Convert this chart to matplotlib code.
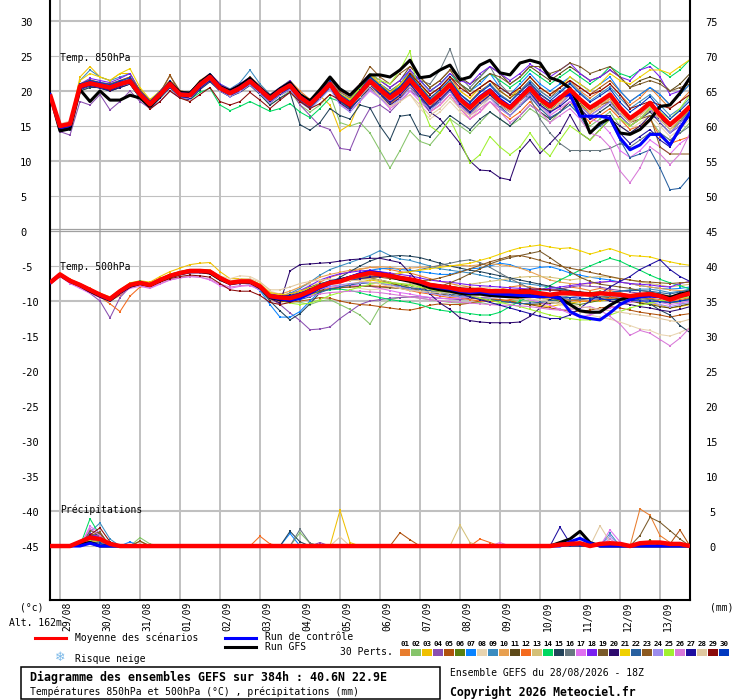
import matplotlib
matplotlib.use("Agg")
import matplotlib.pyplot as plt
from matplotlib.lines import Line2D
from matplotlib.patches import Rectangle
from matplotlib.transforms import blended_transform_factory

plt.rcParams['font.family'] = ['DejaVu Sans Mono', 'DejaVu Sans']

# forecast steps (hours after 28/08 18Z), one every 6h up to 384h
hours = list(range(0, 385, 6))
dates = ["29/08", "30/08", "31/08", "01/09", "02/09", "03/09", "04/09", "05/09",
         "06/09", "07/09", "08/09", "09/09", "10/09", "11/09", "12/09", "13/09"]

pert_colors = ["#e87d2e", "#86c46a", "#f0c000", "#8a4fb0", "#b0520e", "#5a8010",
               "#0a84ff", "#e8d4b0", "#3a8cc0", "#e8a050", "#5e4a18", "#f46a1e",
               "#d4c078", "#00d860", "#23435a", "#687880", "#e070f0", "#7a20f0",
               "#7a5a2a", "#2e0a6e", "#f0d000", "#2860a0", "#8c5a20", "#9c8cec",
               "#a0f030", "#d878d8", "#1e0ea0", "#e0c8a0", "#8a0a0a", "#0038c0"]

# ---- temperature 850 hPa (degC)
t850_mean = [19.5, 15,15.3,20.7,21.1, 20.8,20.5,21,21.4, 19.5,18.1,19.5,21, 19.5,19.4,20.9,22, 20.4,19.7,20.4,21.4, 20.2,18.9,20,20.8, 19.1,18.1,19.5,21, 19,18.1,19.7,21.4, 20.2,19,20,21.6, 20,18.3,19.5,20.9, 18.8,17.6,19,20, 18.5,17.6,19,20.4, 18.8,17.8,19,20.2, 18.8,17.6,18.5,19.5, 17.6,16.1,17.1,18.3, 16.6,15.2,16.4,17.8]
t850_ctrl = [19.5, 14.8,15.1,20.6,21.2, 20.9,20.6,21.1,21.5, 19.6,18.2,19.6,21.1, 19.6,19.5,21,22.1, 20.5,19.8,20.5,21.5, 20.3,19,20.1,20.9, 19.2,18.2,19.6,21.1, 19.1,18.2,19.8,21.5, 20.3,19.1,20.1,21.7, 20.1,18.4,19.6,21, 19,17.8,19.2,20.2, 18.8,17.8,19.2,20.6, 19,18,19.2,19.5, 16.4,16.4,16.4,16.1, 13.3,11.6,12.3,13.8, 13.8,12.3,14.7,16.9]
t850_gfs = [19.5, 14.3,14.6,20.2,18.5, 20,18.7,18.7,19.4, 19,17.8,19.3,21.2, 19.8,19.7,21.2,22.3, 20.6,20,20.8,21.8, 20.4,19.2,20.3,21.2, 19.5,18.6,20.2,22, 20.3,19.4,20.8,22.3, 22.3,22,23,24.4, 21.9,22.1,23,23.7, 21.6,22,23.7,24.4, 22.6,22.3,24,24.4, 24,21.9,21.4,20.4, 17.6,14,15.4,16.1, 14,13.8,14.5,15.9, 17.8,18,19.7,21.9]
t850_perts = [
    [19.8, 15.2,15.5,21,21.5, 21,20.8,21.5,22, 20,18.5,20,21.5, 20,19.8,21.5,22.5, 21,20,20.8,22, 20.8,19.5,20.5,21.5, 20,18.8,20,21.8, 20,19,20.5,22.5, 21,19.8,21,22.8, 21,19.5,20.5,22, 20,19,20.5,21.5, 20,19,20.5,22, 20.5,19.5,20.5,21.5, 20,19,20,21, 19.5,18,19,20.5, 19,17.5,18.5,20],
    [19.2, 14.5,14.8,20,20.5, 20.5,20,20.5,21, 19,17.8,19,20.5, 19,19,20.5,21.5, 20,19.2,20,21, 19.5,18,19,20, 18,17,18,19.5, 15.5,15,15.5,14, 11.5,9,11.5,14.3, 12.8,12.3,14,16, 15,14,15.5,17, 16,15,16,17.5, 16.5,15.5,17,18.5, 16.5,15,16,17, 15,14,15,16, 14,13,14,15.5],
    [19.6, 15,15.5,22,23.5, 22,21.5,22.5,22.5, 20,18.5,19.8,21.2, 19.8,19.6,21,22, 20.5,19.8,20.5,21.5, 20.3,19,20,21, 19,18,19.3,18, 14.3,15.2,18.5,20.5, 19,18,19.5,21, 19.5,18,19,20.5, 19,17.5,18.5,20, 18,17,18.5,20, 19,18,19,20, 18,17,18,19, 16.5,15,16,17.5, 16,14.5,15.5,17],
    [19.3, 14.2,13.7,18.5,18, 19.5,17.3,18.5,20, 18.5,17.5,18.5,20, 19,19,20.5,21.5, 20,19.3,20,21, 19.8,18.5,19.5,20.5, 18,16.5,15,14.5, 11.8,11.6,15,17.5, 18,17,18.5,20, 19,17.5,18.5,20, 18,16.5,18,19.5, 17.5,16.5,18,19.5, 18,17,18,19.5, 18,16.5,17.5,18.5, 16.5,15,16,17.5, 15.5,14,15,16.5],
    [19.5, 14.8,15,20.3,21, 20.8,20.3,21,21.5, 19.5,18,19.6,22.3, 19.5,19.3,20.8,21.8, 20.3,19.6,20.3,21.3, 20,18.8,19.8,20.8, 19,18,19.5,21, 19.2,18.4,20,21.8, 20.6,19.4,20.4,22, 20.5,19,20,21.5, 19.5,18.5,20,21, 19.5,18.5,20,21.5, 20,19,20.5,21.5, 20.5,19.5,20.5,21.5, 20,18.5,19.5,20.5, 19.5,18,19.5,21],
    [19.4, 14.6,14.9,20.5,20.8, 20.5,20.2,20.7,21.2, 19.3,17.9,19.3,20.8, 19.3,19.2,20.7,21.8, 20.2,19.5,20.2,21.2, 20,18.7,19.8,20.6, 18.9,17.9,19.3,20.8, 18.8,17.8,19.4,21, 19.8,18.6,19.6,21.2, 19.5,17.8,19,20.4, 18.3,17,18.5,19.5, 18,17,18.5,20, 18.3,17.3,18.5,19.7, 18.2,17,18,19, 17,15.5,16.5,17.8, 16,14.5,15.8,17.2],
    [19.7, 15,15.2,20.8,21.5, 21.2,21,21.5,21.8, 19.8,18.4,19.8,21.3, 19.8,19.7,21.2,22.3, 20.7,20,20.7,21.7, 20.5,19.2,20.3,21.1, 19.5,18.5,20,21.5, 19.5,18.5,20,22, 21,20,21,23, 21.5,20,21,22.5, 21,20,21,22.5, 20.5,19.5,21,22.5, 21,20,21,22, 21,20,21,22, 20,18.5,19.5,20.5, 19.5,18,19.5,21],
    [19.5, 15.2,15.6,20.6,21, 20.6,20.4,21.2,21.6, 19.3,18,19.2,20.6, 19,18.5,20.5,21.8, 20,19.2,20,21, 19.6,18.4,19.5,20.4, 18.6,17.6,19,20.6, 18.5,17.5,19,20.5, 19.2,17.5,18.5,19.5, 17.5,16,17,18.5, 17,16,17.5,19, 17.5,16.5,18,19.5, 17.5,16.5,17.5,18.5, 17.5,16,17,18, 16,14.5,15.5,16.5, 15,13.5,14.5,16],
    [19.6, 15,15.3,21.5,23, 22,21.5,22,22.5, 20,18.5,20,21.5, 20,19.8,21.3,22.4, 21,20.3,21.2,23, 21,19.5,20.5,21.5, 19.5,18.5,20,21.5, 19.5,18.5,20.3,22, 20.8,19.6,20.6,22.2, 20.5,18.8,20,21.4, 19.5,18.3,19.8,21, 19.5,18.5,20,21.5, 20,19,20,21.2, 19.8,18.6,19.6,20.6, 19,17.5,18.5,19.5, 18,16.5,17.5,19],
    [19.5, 14.7,15,20.4,20.9, 20.8,20.5,21,21.5, 19.6,18.2,19.6,21, 19.6,19.5,21,22.1, 20.5,19.8,20.5,21.5, 20.3,19,20,20.9, 19,18,19.4,20.8, 18.7,17.6,19.2,20.8, 19.6,18.2,19.2,20.8, 19.4,17.6,18.8,20, 18,17,18.5,19.5, 18,17,18.5,20, 18,17,18.2,19.5, 18,16.8,17.8,18.8, 16.5,15,16,17.2, 16,14.5,16,17.5],
    [19.4, 14.6,15,20.6,21.3, 21,20.7,21.2,21.6, 19.6,18.3,19.6,21.2, 19.6,19.5,21,22.2, 20.6,19.9,20.6,21.6, 20.4,19.1,20.2,21, 19.4,18.4,19.8,21.4, 19.5,18.8,20.5,22.5, 21.5,20.5,21.5,23.5, 22,20.5,21.5,23, 22,21,22,23.5, 22.5,21,22,23.5, 22.5,21.5,22.5,23.5, 22.5,21.5,22,23, 22,20.5,21.5,22, 21.5,20,21,22.5],
    [19.6, 15,15.4,20.8,21.2, 20.9,20.6,21.1,21.5, 19.6,18.2,19.5,21, 19.5,19.4,20.8,21.8, 20.2,19.5,20.2,21.2, 20,18.6,19.7,20.5, 18.8,17.8,19.2,20.6, 18.5,17.5,19,20.5, 19.5,18.3,19,20.5, 19,17,18,19.5, 17.5,16,17,18.5, 17,16,17,18.5, 17,16,17,18.5, 17,15.5,16.5,17.5, 16,14.5,15,16, 13.5,12.5,13,13.5],
    [19.5, 14.8,15.1,20.5,21, 20.7,20.3,20.8,21.3, 19.3,17.9,19.3,20.6, 19.2,19,20.6,22.5, 20.5,19.6,20.4,22, 20.5,19,20,21, 19.2,18.2,19.6,21.2, 19,18,19.6,21.2, 20,18.8,19.8,21.5, 19.6,18,19.2,20.6, 18.5,17.3,18.7,19.8, 18.3,17.3,18.7,20.2, 18.6,17.5,18.7,20, 18.5,17.3,18.2,19.2, 17.2,15.7,16.8,18, 16.4,15,16.2,17.5],
    [19.4, 14.6,14.9,20.3,20.8, 20.4,20,20.6,21.1, 19,17.8,19,20.5, 19,18.8,19.8,20.4, 18,17.2,17.8,18.5, 17.8,17.1,17.5,18.2, 17,16.2,17.5,19, 18.5,17.5,19,21, 20.5,19.5,21,22.5, 21.5,20,21,22.5, 21,20,21.5,22.5, 21.5,20.5,21.5,23, 22,21,22,23, 22,21,22,23.5, 22.5,22,23,24, 23,22,23,24.5],
    [19.3, 14.3,14.5,20,20.5, 20.5,20,20.5,21, 19,17.5,19,20.5, 19,18.8,20.2,21.3, 20,19.2,19.8,20.8, 19.5,18,19,19.8, 15.2,14.4,15.5,17.5, 16.5,16,18,17.6, 15,13,16.4,16.6, 13.8,13.5,15,16.5, 15.5,14.5,16,17, 16,15,16.5,18, 17,16,17,18.5, 17.5,16,17,18, 16.5,15,16,17, 15.5,14,15.5,17],
    [19.5, 14.9,15.2,20.7,21.2, 21,20.7,21.3,21.8, 19.8,18.4,19.8,21.3, 19.8,19.7,21.2,22.3, 20.7,20,20.7,21.8, 20.5,19.2,20.3,21.2, 19.5,18.5,20,21.5, 19.8,19,20.5,22.3, 21,20,21,22.5, 21.5,21,23,26, 22,20.5,22,23.5, 21,19.5,19.5,19, 16,14,12.5,11.5, 11.5,11.5,11.5,11.8, 12.5,12,13,14, 14,13,14,15],
    [19.5, 14.9,15.2,20.5,21, 20.7,20.4,20.9,21.3, 19.2,17.8,19.2,20.7, 19.2,19.1,20.5,21.5, 20,19.3,20,21, 19.7,18.4,19.5,20.3, 18.6,17.6,19,20.5, 18.2,17,18.5,20, 19,17.5,18.5,20, 18.5,17,18,19.5, 17.5,16,17,18.5, 17.5,16.5,18,19, 18,16.5,17.5,18.5, 17.5,16,15.5,14, 11.5,10.5,11.5,13, 12,11,12.5,13.5],
    [19.6, 15,15.3,21,21.8, 21.5,21.2,21.8,22.5, 20,18.6,20,21.5, 20,19.8,21.3,22.5, 21,20.2,21,22, 20.6,19.4,20.5,21.4, 19.6,18.6,20,21.6, 20,19.5,21,22.5, 21.5,20.5,21.5,23, 21.5,20,21,22.5, 21.5,21,22.5,23.5, 22.5,21.5,22.5,23.8, 23,22,23,24, 22.5,21.5,22,23, 22,21.5,23,23.5, 22,19.5,20,22],
    [19.5, 14.7,14.9,20.6,21.2, 21,20.6,21.2,21.8, 19.6,18.2,19.6,21.2, 19.6,19.5,21,22, 20.6,20,20.6,21.6, 20.4,19,20.2,21, 19.4,18.4,19.8,21.2, 19.3,18.4,20,22, 20.8,19.6,20.6,22.2, 21,19.5,20.5,22, 21,20,21.5,22.5, 22,21,22,23.5, 23.5,22.5,23,24, 23.5,22.5,23,23.5, 22,20.5,21,21.5, 21,20,20.5,21],
    [19.4, 14.5,14.7,20.2,20.7, 20.4,20,20.5,21, 19,17.6,19,20.5, 19,18.8,20.3,21.5, 20,19.2,19.9,20.9, 19.7,18.3,19.4,20.2, 18.5,17.5,19,20.5, 18.3,17.3,19,20.5, 19.5,18,19,20.5, 19,17,16,14.3, 12.5,10,8.7,8.6, 7.6,7.3,11.4,13, 11.1,12.5,14,16.6, 14,13,14.5,16, 15,14,15,16.5, 16,15,16.5,18],
    [19.6, 15.1,15.5,21.5,22.5, 22,21.5,22.5,23.2, 20.5,18.8,20,21.5, 20,19.8,21.2,22.2, 20.7,20,20.6,21.6, 20.4,19.2,20.3,21.2, 19.5,18.5,20,21.5, 19.6,18.8,20.3,22.4, 21,19.8,21,22.5, 21,19,20,21.5, 20,19,20.5,21.5, 20,19,20.5,22, 20.5,19.5,20.5,22, 21,20,21,22.5, 21.5,21,22,23, 23,22.5,23.5,24.5],
    [19.5, 14.6,14.8,20.3,20.9, 20.6,20.2,20.8,21.2, 19.2,17.8,19.2,20.8, 19.2,19,20.5,21.6, 20.2,19.4,20.1,21.1, 19.9,18.6,19.6,20.4, 18.6,17.6,19,20.5, 18.6,17.5,19,20.8, 19.5,18.3,19.4,21, 19.2,17.5,18.5,20, 18,16.8,18,19.2, 17.8,16.5,17.8,19.2, 17.5,16.2,17,18, 16.5,14,15,16, 13,10.5,11,11.6, 9,5.9,6.1,7.8],
    [19.7, 15,15.4,21,21.6, 21.2,21,21.5,22, 20.2,18.6,19.8,22.2, 20,19.8,21.5,22.3, 20.8,20.2,20.8,22, 20.6,19.4,20.4,21.2, 19.6,18.6,20,21.8, 20,19.5,21,23.5, 22,21,22.5,23.5, 22,20.5,21.5,23, 21,19.5,20.5,21.5, 20,19,20,21, 19.5,18.5,19,20, 19,17.5,18,18.5, 17,15.5,16,16.5, 12,11,11,11],
    [19.5, 14.8,15,20.3,20.8, 20.5,20.2,20.7,21.1, 19.1,17.7,19.1,20.6, 19,18.9,20.4,21.5, 20,19.2,19.9,20.9, 19.6,18.3,19.4,20.2, 18.4,17.4,18.8,20.3, 18,17,18.6,20.3, 19,17.8,18.8,20.5, 18.8,17.2,18.4,20, 17.8,16.6,18,19, 17.5,16.5,18,19.5, 17.8,16.8,18,19.5, 17.8,16.5,17.4,18.4, 16.6,15,16,17.4, 15.6,14,15.5,17],
    [19.4, 14.7,15,20.5,21, 20.8,20.4,21,21.6, 19.6,18.2,19.4,21, 19.5,19.3,20.8,21.9, 20.4,19.7,20.4,21.4, 20.2,18.9,19.9,20.8, 19.2,18.2,19.6,21, 19.4,18.6,20.5,22.5, 21.5,21,23,25.7, 18.6,15,14,16, 13,9.7,10.9,13.5, 12,10.9,12,14, 12,10.7,13,15, 14,13,14.5,16, 16,15,16,17.5, 17,16,17.5,19.5],
    [19.5, 14.9,15.2,20.6,21.1, 20.8,20.5,21,21.5, 19.4,18,19.4,20.9, 19.4,19.3,20.7,21.8, 20.3,19.6,20.3,21.3, 20,18.7,19.8,20.6, 19,18,19.4,20.8, 18.8,17.8,19.4,21, 20,18.7,19.6,21, 19.5,18,19,20.5, 18,16.5,17.5,18.5, 17,15.5,16.5,18, 17,15.5,16.5,17.5, 16,14,13.5,12, 8.6,6.9,9,12, 11,9.5,11,14],
    [19.4, 14.5,14.8,20.3,20.8, 20.5,20.1,20.7,21.2, 19.2,17.8,19.2,20.7, 19.2,19,20.4,21.5, 20.1,19.4,20.1,21.1, 19.9,18.6,19.6,20.5, 18.8,17.8,19.2,20.7, 18.6,17.6,19.2,20.8, 19.6,18.4,19.4,21, 19.3,17.6,18.8,20.2, 18.2,17,18.3,19.4, 18,17,18.5,19.8, 18,17,17.8,19, 17.5,16,16.5,16.5, 14,12.5,13.5,14.5, 13,12,14.5,16.5],
    [19.5, 15.3,15.7,20.6,21.1, 20.8,20.6,21.3,21.8, 19.5,18.2,19.5,21, 19.4,19.2,20.7,21.7, 20.2,19.5,20.2,21.2, 20,18.7,19.7,20.7, 19,18,19.4,20.8, 18.8,17.8,19.2,20.7, 19.3,17.8,18.5,19.5, 18,16.5,17.5,19, 17.5,16.5,18,19.2, 18,17,18.5,20, 18.5,17.5,18.5,19.8, 18.5,17,18,19, 17,15.5,16.5,17.8, 16,14.5,16,17.5],
    [19.5, 14.7,15,20.4,20.9, 20.6,20.2,20.8,21.2, 19.2,17.4,18.5,20, 19,18.5,19.5,20.5, 18.5,18,18.5,19.8, 18.7,17.5,18.7,19.8, 18.5,17.5,18.2,19.5, 18.7,17.7,19.5,21.2, 20.5,19.5,20.5,22.5, 21,19.5,20.5,22, 20.5,19.5,20.5,21.5, 20.5,19.5,20.5,22, 20.5,19.5,20.5,21.5, 20.5,19.5,20,21, 19.5,17.5,18,18.5, 18,17.5,18.5,19.5],
    [19.6, 14.9,15.3,21,21.5, 21.2,20.9,21.4,21.9, 19.9,18.5,19.9,21.4, 19.9,19.8,21.3,22.4, 20.8,20.1,20.8,21.8, 20.6,19.3,20.4,21.2, 19.5,18.5,19.9,21.4, 19.5,18.5,20.1,22, 20.8,19.6,20.6,22.2, 20.6,19,20.2,21.6, 19.6,18.4,19.8,20.8, 19.3,18.4,19.8,21.2, 19.6,18.6,19.8,21, 19.6,18.4,19.3,20.3, 18.4,17,18,19.2, 17.4,16,17.2,18.6],
]

# ---- temperature 500 hPa (degC)
t500_mean = [-7.4,-6.2,-7.1,-7.7,-8.4, -9.1,-9.7,-8.6,-7.7,-7.4, -7.7,-7,-6.4,-6,-5.7, -5.7,-5.8,-6.7,-7.4,-7.2, -7.2,-7.9,-9.3,-9.5,-9.6, -9.2,-8.6,-7.9,-7.4,-7.2, -6.7,-6.3,-6,-6.2,-6.4, -6.7,-6.9,-7.2,-7.7,-7.9, -8.1,-8.4,-8.5,-8.4,-8.6, -8.6,-8.6,-8.7,-8.7,-8.9, -9.1,-8.9,-8.9,-9,-9.1, -8.9,-9,-9.1,-9.3,-9.1, -9,-9.3,-9.8,-9.3,-8.9]
t500_ctrl = [-7.4,-6.2,-7.1,-7.7,-8.4, -9.2,-9.8,-8.7,-7.8,-7.4, -7.7,-7,-6.4,-6,-5.7, -5.7,-5.8,-6.7,-7.4,-7.2, -7.2,-7.9,-9.4,-9.7,-9.9, -9.6,-8.9,-8.1,-7.5,-7.1, -6.6,-6.1,-5.8,-6,-6.3, -6.6,-6.9,-7.3,-7.8,-8.1, -8.3,-8.6,-8.8,-8.7,-8.9, -9,-9.1,-9.2,-9.3,-9.4, -9.3,-9.6,-11.5,-12.2,-12.5, -12.7,-11.7,-10.5,-9.8,-9.4, -9.3,-9.4,-9.8,-9.3,-9]
t500_gfs = [-7.4,-6.3,-7.2,-7.8,-8.6, -9.3,-9.9,-8.8,-7.9,-7.5, -7.8,-7.1,-6.5,-6.1,-5.8, -5.8,-6,-6.9,-7.5,-7.3, -7.3,-8.1,-9.5,-9.8,-9.9, -9.5,-8.8,-8,-7.4,-7, -6.6,-6.2,-6,-6.2,-6.5, -6.9,-7.2,-7.6,-8.1,-8.4, -8.6,-8.9,-9,-9,-9.2, -9.3,-9.4,-9.4,-9.3,-9.2, -9.3,-9.6,-10.5,-11.4,-11.6, -11.6,-10.6,-9.8,-9.4,-9.2, -9,-9.2,-9.5,-9,-8.7]
t500_perts = [
    [-7.6,-6.4,-7.3,-8,-8.8, -9.5,-10,-9.2,-8,-7.6, -7.6,-6.9,-6.2,-5.8,-5.5, -5.6,-5.9,-6.8,-7.6,-7.4, -7.4,-8.2,-9.8,-10.2,-9.8, -9,-8.2,-7.3,-6.6,-6.2, -5.8,-5.5,-5.2,-5.3,-5.5, -5.8,-6,-6.4,-6.8,-7.2, -7.5,-7.8,-8,-8.2,-8.5, -8.3,-8,-7.8,-8,-8.3, -8.5,-8.3,-8,-8.2,-8.5, -8.2,-8.5,-8.8,-9.2,-9, -9,-9.5,-10,-9.6,-9.2],
    [-7.3,-6.1,-7,-7.6,-8.3, -9,-9.8,-8.7,-7.8,-7.5, -7.8,-7.1,-6.5,-6.1,-5.8, -5.8,-5.9,-6.8,-7.5,-7.3, -7.3,-8,-9.4,-9.8,-10, -10.2,-10.5,-10,-9.8,-10.5, -11.2,-12,-13.3,-10.8,-9.8, -9.5,-9.4,-9.6,-9.8,-10, -10.2,-10.3,-10.3,-10.2,-10.5, -10.3,-10,-9.8,-10,-10.2, -10,-9.6,-9.2,-9,-8.8, -8.6,-8.8,-9,-9.2,-9.5, -9.3,-9.5,-10,-10.3,-10.5],
    [-7.2,-6,-6.9,-7.5,-8.2, -8.9,-9.4,-8.4,-7.4,-7.1, -7.3,-6.5,-5.8,-5.3,-4.8, -4.6,-4.5,-5.8,-6.8,-6.8, -6.9,-7.6,-9,-9.3,-9.5, -9.5,-9.2,-8.6,-8.2,-8, -7.6,-7.3,-7,-7.2,-7.5, -7.8,-8,-8.3,-8.5,-8.6, -8.8,-9,-9.3,-9.5,-9.6, -9.8,-10,-10.3,-10.5,-10.6, -10.8,-10.5,-10.3,-10.1,-10, -10,-9.8,-9.8,-10,-10.2, -10.4,-10.6,-11,-10.8,-10.5],
    [-7.5,-6.3,-7.2,-7.9,-8.9, -10,-12.4,-9.5,-8,-7.7, -8,-7.3,-6.7,-6.3,-6, -6,-6.1,-7,-7.7,-7.5, -7.5,-8.2,-9.6,-10.5,-11.7, -12.8,-14.1,-14,-13.7,-12.5, -11.5,-10.5,-10,-9.8,-9.6, -9.5,-9.4,-9.4,-9.5,-9.6, -9.7,-9.8,-9.6,-9.5,-9.4, -9.2,-9,-8.8,-8.6,-8.4, -8.5,-8.3,-8,-7.8,-7.9, -8,-8.3,-8.5,-8.7,-8.9, -9.1,-9.3,-9.5,-9.4,-9.2],
    [-7.4,-6.2,-7.1,-7.7,-8.4, -9.2,-9.8,-8.7,-7.8,-7.5, -7.8,-7.1,-6.5,-6.1,-5.8, -5.8,-5.9,-6.9,-7.6,-7.4, -7.4,-8.2,-9.6,-10,-10.2, -10,-9.8,-9.5,-9.6,-10, -10.3,-10.5,-10.6,-10.8,-11, -11.2,-11.3,-11,-10.6,-10.4, -10.5,-10.5,-10.3,-10,-9.8, -9.8,-10,-10.3,-10.5,-10.8, -11,-11.2,-11.5,-11.5,-11.3, -11,-10.8,-11,-11.3,-11.6, -11.8,-12,-12.3,-12,-11.8],
    [-7.4,-6.2,-7.1,-7.7,-8.4, -9,-9.6,-8.5,-7.6,-7.3, -7.6,-6.9,-6.3,-5.9,-5.6, -5.6,-5.8,-6.6,-7.3,-7.1, -7.1,-7.8,-9,-9.2,-9, -8.6,-8,-7.5,-7.2,-7.1, -6.9,-6.8,-6.8,-7,-7.3, -7.6,-7.9,-8.2,-8.5,-8.6, -8.7,-8.8,-8.9,-9,-9.1, -9.1,-9.2,-9.3,-9.4,-9.6, -9.8,-10,-10.3,-10.5,-10.2, -9.9,-9.6,-9.4,-9.2,-9.5, -9.7,-10,-10.3,-10,-9.6],
    [-7.3,-6.1,-7,-7.6,-8.3, -9,-9.5,-8.5,-7.6,-7.3, -7.6,-6.9,-6.3,-5.9,-5.6, -5.6,-5.7,-6.6,-7.4,-7.4, -7.6,-8.5,-10.5,-12.3,-12.3, -11.5,-10,-8.6,-7.6,-7, -6.5,-6,-5.6,-5.4,-5.3, -5.5,-5.6,-5.8,-6,-6.2, -6.2,-5.8,-5.4,-5.3,-5, -4.6,-4.8,-5.3,-5.5,-5.2, -5.1,-5.5,-6,-6.3,-6.6, -6.8,-7,-7.3,-7.5,-7.8, -8,-8.2,-8.3,-8.2,-8],
    [-7.4,-6.2,-7.1,-7.7,-8.4, -9,-9.5,-8.4,-7.6,-7.3, -7.6,-6.9,-6.3,-5.9,-5.6, -5.6,-5.7,-6.4,-6.8,-6.4, -6.5,-7.2,-8.6,-9,-8.6, -8,-7.6,-7.5,-7.6,-7.8, -8,-8.2,-8.4,-8.3,-8.2, -8.1,-8,-8.2,-8.4,-8.5, -8.4,-8.3,-8.2,-8,-8.1, -8.3,-8.5,-8.8,-9.2,-9.6, -10,-10.5,-11,-11.5,-12, -12.3,-12.6,-13,-13.5,-14, -14.2,-14.8,-15,-14.5,-13.8],
    [-7.4,-6.3,-7.2,-7.8,-8.5, -9.1,-9.6,-8.5,-7.6,-7.3, -7.6,-6.9,-6.3,-5.9,-5.6, -5.7,-5.9,-6.8,-7.5,-7.3, -7.3,-7.9,-9.1,-9.3,-8.9, -8.2,-7.3,-6.3,-5.5,-5, -4.5,-4,-3.5,-2.8,-3.5, -4,-4.2,-4.6,-5,-5.4, -5.6,-5.8,-6,-6.3,-6.6, -6.9,-7.2,-7.4,-7.6,-7.8, -8,-8.3,-8.6,-8.8,-9, -8.9,-8.8,-8.6,-8.4,-8.3, -8.3,-8.5,-8.8,-8.6,-8.3],
    [-7.4,-6.2,-7.1,-7.7,-8.4, -9.1,-9.7,-8.6,-7.7,-7.4, -7.6,-6.9,-6.3,-5.9,-5.6, -5.5,-5.6,-6.5,-7.2,-7, -7,-7.6,-8.8,-9,-8.6, -8,-7.3,-6.6,-6.2,-5.9, -5.6,-5.4,-5.2,-5.1,-5.2, -5.4,-5.3,-5.2,-5.1,-5, -5,-4.9,-5,-4.8,-4.7, -4.8,-5,-5.3,-5.8,-6.4, -7,-7.3,-7.5,-7.6,-7.5, -7.4,-7.2,-7.3,-7.5,-7.8, -8,-8.2,-8.4,-8.5,-8.6],
    [-7.5,-6.3,-7.2,-7.8,-8.5, -9.2,-9.8,-8.7,-7.8,-7.5, -7.8,-7.1,-6.5,-6.1,-5.8, -5.8,-5.9,-6.8,-7.5,-7.3, -7.3,-8,-9.3,-9.6,-9.6, -9.3,-8.7,-8,-7.5,-7.3, -7,-6.8,-6.7,-7,-7.4, -7.8,-8.2,-8.5,-8.8,-9, -9.2,-9.4,-9.6,-9.7,-9.9, -10,-10.2,-10.3,-10.5,-10.4, -10.3,-10.2,-10,-9.8,-9.6, -9.4,-9.5,-9.7,-10,-10.3, -10.5,-10.8,-11,-10.7,-10.4],
    [-7.4,-6.2,-7.1,-7.8,-8.6, -9.4,-10.4,-11.5,-9.3,-8, -7.8,-7.1,-6.5,-6.1,-5.8, -5.8,-5.9,-6.8,-7.5,-7.3, -7.3,-8,-9.2,-9.5,-9.5, -9.2,-8.8,-8.4,-8.2,-8.1, -8,-7.9,-7.8,-7.9,-8, -8.2,-8.5,-8.8,-9,-9.3, -9.5,-9.6,-9.8,-10,-10.1, -10,-9.8,-9.6,-9.5,-9.5, -9.6,-9.8,-9.9,-10,-10, -9.8,-9.6,-9.4,-9.3,-9.5, -9.6,-9.8,-10,-9.8,-9.5],
    [-7.4,-6.2,-7.1,-7.7,-8.4, -9,-9.6,-8.5,-7.6,-7.3, -7.6,-6.9,-6.3,-5.9,-5.6, -5.6,-5.7,-6.5,-7.2,-7.1, -7.2,-7.9,-9.2,-9.4,-9.3, -9,-8.5,-7.9,-7.5,-7.3, -7.1,-6.9,-6.8,-7,-7.3, -7.5,-7.6,-7.8,-7.9,-8, -8,-7.8,-7.6,-7.4,-7.2, -7,-6.8,-6.6,-6.5,-6.5, -6.6,-6.8,-7,-6.8,-6.6, -6.5,-6.6,-6.8,-7,-7.3, -7.5,-7.7,-8,-7.8,-7.6],
    [-7.4,-6.2,-7.1,-7.7,-8.4, -9,-9.5,-8.4,-7.5,-7.2, -7.5,-6.8,-6.2,-5.8,-5.5, -5.5,-5.6,-6.5,-7.2,-7.1, -7.1,-7.8,-9,-9.4,-9.5, -9.3,-9,-8.6,-8.4,-8.3, -8.5,-8.8,-9.2,-9.5,-9.8, -10,-10.2,-10.5,-11,-11.3, -11.5,-11.6,-11.8,-12,-12, -11.6,-10.8,-10,-9.3,-8.5, -7.8,-7,-6.3,-5.6,-5, -4.4,-3.9,-4.3,-5,-5.6, -6.3,-6.9,-7.4,-7.8,-8.3],
    [-7.4,-6.2,-7.1,-7.7,-8.4, -9.1,-9.7,-8.6,-7.7,-7.4, -7.7,-7,-6.4,-6,-5.7, -5.7,-5.8,-6.7,-7.4,-7.3, -7.4,-8.3,-10,-11.4,-12.7, -11.8,-10.4,-8.8,-7.5,-6.6, -5.8,-5,-4.3,-3.8,-3.6, -3.5,-3.6,-3.8,-4.2,-4.6, -5,-5.3,-5.6,-5.8,-6.1, -6.4,-6.7,-7,-7.3,-7.6, -7.9,-8.2,-8.5,-8.7,-8.9, -9,-9.2,-9.4,-9.6,-9.8, -10.4,-11.3,-12,-13.5,-14.5],
    [-7.4,-6.2,-7.1,-7.7,-8.4, -9.1,-9.7,-8.6,-7.7,-7.4, -7.7,-7,-6.4,-6,-5.7, -5.7,-5.8,-6.7,-7.4,-7.2, -7.2,-7.9,-9.2,-9.4,-9.4, -9,-8.4,-7.8,-7.3,-7, -6.7,-6.5,-6.4,-6.4,-6.2, -6,-5.8,-5.5,-5.2,-4.9, -4.6,-4.3,-4.1,-4.5,-5.2, -6,-6.8,-7.5,-8.2,-8.8, -9.3,-9.6,-9.8,-9.8,-9.6, -9.4,-9.3,-9.3,-9.5,-9.7, -9.8,-10,-10.2,-10,-9.7],
    [-7.6,-6.5,-7.5,-8.2,-8.9, -9.5,-10,-9,-8.2,-7.9, -8.2,-7.6,-7,-6.7,-6.5, -6.6,-7,-7.8,-8.2,-7.9, -7.8,-8.4,-9.5,-9.6,-9.6, -9.3,-8.8,-8.3,-8,-7.9, -7.8,-7.8,-7.9,-8.2,-8.5, -8.8,-9,-9.3,-9.5,-9.6, -9.7,-9.6,-9.4,-9.2,-9, -9,-9.2,-9.5,-9.8,-10.2, -10.6,-11.2,-11.8,-12.3,-12, -11.5,-11,-10.6,-10.2,-10, -10,-10.2,-10.5,-10.3,-10],
    [-7.3,-6.1,-7,-7.6,-8.3, -9,-9.6,-8.5,-7.6,-7.3, -7.6,-6.9,-6.3,-5.9,-5.6, -5.6,-5.7,-6.6,-7.3,-7.1, -7.1,-7.8,-9,-9.2,-9, -8.5,-7.8,-7,-6.5,-6.1, -5.9,-5.7,-5.6,-5.8,-6, -6.2,-6.4,-6.7,-7,-7.2, -7.3,-7.5,-7.7,-7.8,-7.9, -8,-8.1,-8.2,-8.3,-8.3, -8.2,-8,-7.8,-7.6,-7.4, -7.3,-7.2,-7.3,-7.5,-7.6, -7.7,-7.9,-8,-7.5,-7.2],
    [-7.5,-6.3,-7.2,-7.8,-8.5, -9.2,-9.8,-8.7,-7.8,-7.5, -7.8,-7.1,-6.5,-6.1,-5.8, -5.8,-5.9,-6.8,-7.5,-7.3, -7.3,-8,-9.4,-9.7,-9.7, -9.4,-9,-8.6,-8.3,-8.1, -8,-7.9,-7.9,-8,-8.1, -8.2,-8.3,-8.3,-8.2,-7.9, -7.4,-6.8,-6.1,-5.4,-4.7, -4.2,-3.8,-3.5,-3.2,-2.9, -3.8,-4.8,-5.8,-6.6,-7.2, -7.6,-7.8,-8,-8.2,-8.5, -8.7,-9,-9.3,-9,-8.7],
    [-7.4,-6.2,-7.1,-7.7,-8.4, -9.1,-9.7,-8.6,-7.7,-7.4, -7.7,-7,-6.4,-6,-5.7, -5.7,-5.8,-6.7,-7.4,-7.3, -7.4,-8.2,-9.6,-10.3,-5.7, -4.8,-4.7,-4.6,-4.5,-4.3, -4.1,-4,-3.9,-3.9,-4.2, -4.5,-6,-7.5,-9,-10.3, -11.2,-12.4,-12.8,-13,-13.1, -13.1,-13.1,-13,-12.2,-11, -9.8,-9,-8.6,-8.8,-9.2, -9.6,-10,-10.3,-10.5,-10.8, -11,-11.3,-11.5,-11.2,-10.8],
    [-7.3,-6.1,-7,-7.6,-8.3, -9,-9.6,-8.5,-7.6,-7.3, -7.5,-6.8,-6.2,-5.8,-5.5, -5.5,-5.6,-6.5,-7.2,-7, -7,-7.6,-8.8,-9.1,-9, -8.6,-8.1,-7.6,-7.3,-7.1, -6.9,-6.7,-6.6,-6.6,-6.3, -6,-5.8,-5.6,-5.4,-5.2, -5,-4.8,-4.6,-4.2,-3.8, -3.3,-2.8,-2.4,-2.2,-2, -2.3,-2.5,-2.4,-2.8,-3.3, -2.9,-2.5,-3,-3.5,-3.6, -3.7,-4.1,-4.4,-4.7,-4.9],
    [-7.5,-6.3,-7.2,-7.8,-8.5, -9.2,-9.8,-8.7,-7.8,-7.5, -7.8,-7.1,-6.5,-6.1,-5.8, -5.8,-5.9,-6.8,-7.5,-7.3, -7.3,-8.1,-9.5,-9.9,-10, -9.8,-9.4,-8.8,-8.3,-8, -7.7,-7.5,-7.4,-7.5,-7.7, -7.9,-8.1,-8.3,-8.6,-8.8, -9,-9.2,-9.4,-9.6,-9.8, -10,-10.2,-10.4,-10.3,-10.2, -10,-9.7,-9.5,-9.3,-9.1, -9,-8.8,-8.6,-8.5,-8.5, -8.6,-8.8,-9,-8.7,-8.4],
    [-7.4,-6.2,-7.1,-7.7,-8.4, -9.1,-9.7,-8.6,-7.7,-7.4, -7.7,-7,-6.4,-6,-5.7, -5.7,-5.8,-6.7,-7.4,-7.2, -7.2,-7.9,-9.2,-9.4,-9.2, -8.8,-8.3,-7.7,-7.3,-7, -6.8,-6.6,-6.5,-6.6,-6.8, -7,-7.1,-7.1,-7,-6.7, -6.3,-5.9,-5.4,-4.9,-4.4, -4,-3.6,-3.5,-3.8,-4.2, -4.6,-5,-5.3,-5.6,-5.9, -6.2,-6.5,-6.8,-7,-7.2, -7.3,-7.4,-7.5,-7.4,-7.3],
    [-7.4,-6.2,-7.1,-7.7,-8.4, -9.1,-9.6,-8.5,-7.6,-7.3, -7.6,-6.9,-6.3,-5.9,-5.6, -5.6,-5.7,-6.6,-7.3,-7.1, -7.1,-7.8,-9.1,-9.4,-9.5, -9.2,-8.8,-8.3,-7.9,-7.7, -7.5,-7.4,-7.3,-7.5,-7.7, -8,-8.3,-8.6,-8.9,-9.1, -9.3,-9.4,-9.5,-9.6,-9.6, -9.5,-9.4,-9.3,-9.3,-9.4, -9.5,-9.6,-9.5,-9.3,-9.1, -9,-9.2,-9.5,-9.8,-10, -10.2,-10.5,-10.8,-10.5,-10.2],
    [-7.4,-6.2,-7.1,-7.7,-8.4, -9.1,-9.7,-8.6,-7.7,-7.4, -7.7,-7,-6.4,-6,-5.7, -5.7,-5.8,-6.7,-7.4,-7.2, -7.2,-7.9,-9.3,-9.8,-10.3, -10.5,-10.3,-9.8,-9.2,-8.8, -8.4,-8,-7.6,-7.4,-7.4, -7.5,-7.7,-8,-8.3,-8.6, -8.8,-9,-9.3,-9.6,-9.9, -10.2,-10.5,-10.8,-11.2,-11.6, -12,-12.3,-12.5,-12.7,-12.7, -12.5,-12,-11.5,-11,-10.6, -10.3,-10,-9.8,-9.6,-9.4],
    [-7.5,-6.4,-7.3,-8,-8.7, -9.3,-9.8,-8.8,-8,-7.8, -8.1,-7.5,-7,-6.7,-6.5, -6.6,-6.9,-7.6,-8,-7.8, -7.7,-8.2,-9.4,-9.7,-9.8, -9.6,-9.3,-9,-8.8,-8.7, -8.6,-8.6,-8.7,-8.8,-9, -9.2,-9.4,-9.6,-9.8,-10, -10.1,-10.2,-10.3,-10.4,-10.5, -10.6,-10.6,-10.7,-10.8,-11, -11.2,-11.3,-11.2,-11,-10.8, -11.3,-12.2,-13.3,-14.9,-14.2, -14.6,-15.5,-16.4,-15.3,-13.8],
    [-7.3,-6.1,-7,-7.6,-8.3, -9,-9.6,-8.5,-7.6,-7.3, -7.6,-6.9,-6.3,-5.9,-5.6, -5.6,-5.7,-6.6,-7.3,-7.1, -7.1,-7.8,-9.1,-9.3,-9.2, -8.9,-8.4,-7.9,-7.5,-7.2, -7,-6.8,-6.6,-6.5,-6.5, -6.6,-6.8,-7.2,-7.7,-8.2, -8.6,-9,-9.4,-9.8,-10.2, -10.6,-11,-11.4,-11.8,-12.2, -12.5,-12.5,-12,-11,-10, -9,-8,-7.2,-6.5,-5.5, -4.8,-4.1,-5.5,-6.5,-7.2],
    [-7.4,-6.2,-7.1,-7.7,-8.4, -9.1,-9.6,-8.5,-7.6,-7.3, -7.6,-6.9,-6.3,-5.9,-5.6, -5.6,-5.7,-6.5,-7.1,-6.9, -6.8,-7.3,-8.4,-8.4,-8, -7.5,-7.2,-7,-6.9,-6.9, -7,-7.1,-7.3,-7.6,-7.9, -8.2,-8.5,-8.6,-8.7,-8.8, -8.9,-9,-9,-9.1,-9.2, -9.3,-9.4,-9.5,-9.7,-9.9, -10.1,-10.3,-10.5,-10.8,-11, -11.2,-11.4,-11.6,-11.8,-12, -12.2,-12.5,-12.8,-13,-12.6],
    [-7.5,-6.3,-7.2,-7.8,-8.5, -9.2,-9.8,-8.7,-7.9,-7.6, -7.9,-7.3,-6.8,-6.5,-6.3, -6.4,-6.6,-7.5,-8.4,-8.6, -8.6,-9.2,-10.2,-10.5,-10.2, -9.6,-8.8,-8,-7.4,-7, -6.7,-6.4,-6.2,-6.2,-6.4, -6.7,-6.9,-7.2,-7.5,-7.7, -7.9,-8.1,-8.2,-8.3,-8.4, -8.5,-8.5,-8.4,-8.3,-8.3, -8.4,-8.5,-8.6,-8.7,-8.8, -8.8,-8.9,-9,-9.1,-9.2, -9.3,-9.4,-9.5,-9.3,-9],
    [-7.4,-6.2,-7.1,-7.7,-8.4, -9,-9.6,-8.5,-7.6,-7.3, -7.6,-6.9,-6.3,-5.9,-5.6, -5.6,-5.7,-6.6,-7.3,-7.1, -7.1,-7.8,-9.2,-9.4,-9.3, -8.9,-8.3,-7.6,-7.1,-6.8, -6.5,-6.2,-6,-6.1,-6.3, -6.6,-6.9,-7.2,-7.6,-7.9, -8.1,-8.3,-8.5,-8.6,-8.7, -8.8,-8.9,-9,-9.1,-9.2, -9.3,-9.4,-9.5,-9.6,-9.7, -9.7,-9.8,-9.8,-9.9,-10, -10,-10.1,-10.2,-10,-9.8],
]

# ---- precipitation (mm), only the non-zero steps: (step index, mm)
rr_mean = [(3, 0.6), (4, 1.2), (5, 1.0), (6, 0.3), (51, 0.2), (52, 0.3), (53, 0.4), (55, 0.3),
           (56, 0.4), (57, 0.3), (59, 0.4), (60, 0.5), (61, 0.5), (62, 0.3), (63, 0.3)]
rr_ctrl = [(4, 0.4), (52, 0.6), (53, 1.1), (54, 0.4)]
rr_gfs = [(3, 0.3), (4, 0.5), (51, 0.5), (52, 1.0), (53, 2.1), (54, 0.5)]
rr_perts = [
    [(4, 1.0), (5, 0.8), (59, 5.3), (60, 4.4), (61, 1.5), (62, 0.5)],
    [(4, 1.5), (5, 0.5), (9, 1.2), (10, 0.3), (25, 1.9), (26, 0.4)],
    [(4, 0.6), (5, 0.4), (29, 5.1), (30, 0.5)],
    [(4, 1.8), (5, 1.2), (27, 0.5)],
    [(4, 1.2), (5, 1.5), (6, 0.4), (35, 1.9), (36, 0.9), (62, 0.3), (63, 2.3)],
    [(4, 0.8), (5, 0.6), (9, 0.7), (60, 0.8)],
    [(4, 1.3), (5, 0.8), (8, 0.6), (24, 1.8)],
    [(4, 0.5), (5, 0.3)],
    [(4, 2.0), (5, 3.3), (6, 1.0), (56, 1.8)],
    [(4, 0.9), (5, 0.7)],
    [(4, 1.6), (5, 1.0)],
    [(4, 1.0), (5, 1.3), (21, 1.4), (22, 0.3), (43, 1.0), (44, 0.5)],
    [(4, 0.7), (5, 0.5), (41, 3.0), (42, 0.5)],
    [(4, 3.9), (5, 1.5), (6, 0.3)],
    [(4, 1.4), (5, 1.8), (24, 2.1), (25, 0.6)],
    [(4, 1.1), (5, 1.6), (25, 2.4), (26, 0.4)],
    [(4, 2.8), (5, 1.9), (56, 2.3), (57, 0.6)],
    [(4, 1.7), (5, 1.3)],
    [(4, 2.2), (5, 1.8), (59, 1.5), (60, 4.1), (61, 3.4), (62, 2.2), (63, 1.0)],
    [(4, 1.4), (5, 0.9)],
    [(4, 0.5), (5, 0.9)],
    [(4, 1.0), (5, 0.7)],
    [(4, 1.5), (5, 2.0), (9, 0.7)],
    [(4, 1.2), (5, 1.0), (56, 1.4)],
    [(4, 0.9), (5, 1.1)],
    [(4, 2.5), (5, 1.5), (45, 0.5), (56, 1.0)],
    [(4, 1.3), (5, 1.1), (51, 2.7), (52, 0.4)],
    [(4, 1.0), (5, 0.8), (29, 1.3), (55, 2.9), (56, 0.6)],
    [(4, 1.6), (5, 2.6), (6, 0.6)],
    [(4, 0.6), (5, 0.4)],
]

RR_BASE = -45   # precipitation is drawn on the lower part, 0 mm at -45
W, H = 740, 700


def fx(px):
    return px / W


def fy(py):
    return 1 - py / H


def rr_series(events):
    vals = [0.0] * len(hours)
    for step, mm in events:
        vals[step] = mm
    return [RR_BASE + v for v in vals]


for name, s in [("t850_mean", t850_mean), ("t850_ctrl", t850_ctrl), ("t850_gfs", t850_gfs),
                ("t500_mean", t500_mean), ("t500_ctrl", t500_ctrl), ("t500_gfs", t500_gfs)]:
    assert len(s) == len(hours), (name, len(s))
for k, s in enumerate(t850_perts):
    assert len(s) == len(hours), ("t850", k + 1, len(s))
for k, s in enumerate(t500_perts):
    assert len(s) == len(hours), ("t500", k + 1, len(s))

fig = plt.figure(figsize=(W / 100, H / 100), dpi=100)
ax = fig.add_axes([fx(50), 100 / H, 640 / W, 600 / H])
ax.set_xlim(0, 384)
ax.set_ylim(-52.71, 33.0)
ax.set_xticks([])
ax.set_yticks([])
ax.spines['top'].set_visible(False)
for side in ['left', 'right', 'bottom']:
    ax.spines[side].set_linewidth(1.5)
    ax.spines[side].set_color('black')

# grid
grid_c = '#c0c0c0'
for k in range(16):
    ax.axvline(6 + 24 * k, color=grid_c, lw=1.4, zorder=0)
for v in [30, 20, 10, -10, -40]:
    ax.axhline(v, color=grid_c, lw=1.5, zorder=0)
for v in [25, 15, 5, -5, -45]:
    ax.axhline(v, color=grid_c, lw=0.8, zorder=0)
ax.axhline(0.3, color='#a0a0a0', lw=0.9, zorder=0)
ax.axhline(0.0, color='#a0a0a0', lw=0.9, zorder=0)

# ensemble members
for k in range(30):
    c = pert_colors[k]
    style = dict(color=c, lw=0.75, marker='s', ms=2.0, mew=0, zorder=2)
    ax.plot(hours, t850_perts[k], **style)
    ax.plot(hours, t500_perts[k], **style)
    ax.plot(hours, rr_series(rr_perts[k]), **style)

# GFS run, control run, ensemble mean
for series in [t850_gfs, t500_gfs, rr_series(rr_gfs)]:
    ax.plot(hours, series, color='black', lw=2.2, zorder=3)
for series in [t850_ctrl, t500_ctrl, rr_series(rr_ctrl)]:
    ax.plot(hours, series, color='#0000ff', lw=2.2, zorder=3)
for series in [t850_mean, t500_mean, rr_series(rr_mean)]:
    ax.plot(hours, series, color='#ff0000', lw=3.2, zorder=4, solid_capstyle='butt')

# y labels on both sides
lab_tr = blended_transform_factory(fig.transFigure, ax.transData)
for v in range(30, -50, -5):
    ax.text(fx(20), v - 0.3, str(v), transform=lab_tr, ha='left', va='center',
            fontsize=7.5, clip_on=False)
    ax.text(fx(712), v - 0.3, str(v + 45), transform=lab_tr, ha='center', va='center',
            fontsize=7.5, clip_on=False)

# date labels under the axis
date_tr = blended_transform_factory(ax.transData, ax.transAxes)
for k, d in enumerate(dates):
    ax.text(6 + 24 * k + 4.5, -2 / 600, d, transform=date_tr, rotation=90,
            ha='center', va='top', fontsize=7, clip_on=False)

# panel titles
fig.text(fx(60), fy(58), "Temp. 850hPa", fontsize=7, va='center')
fig.text(fx(60), fy(267), "Temp. 500hPa", fontsize=7, va='center')
fig.text(fx(60), fy(510), "Précipitations", fontsize=7, va='center')
fig.text(fx(20), fy(607), "(°c)", fontsize=7, va='center')
fig.text(fx(710), fy(607), "(mm)", fontsize=7, va='center')
fig.text(fx(9), fy(623), "Alt. 162m", fontsize=7, va='center')

# legend
fig.add_artist(Line2D([fx(35), fx(66)], [fy(637.5)] * 2, color='#ff0000', lw=2.2))
fig.text(fx(75), fy(637.5), "Moyenne des scénarios", fontsize=7, va='center')
fig.add_artist(Line2D([fx(225), fx(256)], [fy(637.5)] * 2, color='#0000ff', lw=2.2))
fig.text(fx(265), fy(637.5), "Run de contrôle", fontsize=7, va='center')
fig.add_artist(Line2D([fx(225), fx(256)], [fy(647)] * 2, color='black', lw=2.2))
fig.text(fx(265), fy(647.5), "Run GFS", fontsize=7, va='center')
fig.text(fx(60.5), fy(657.5), "❄", fontsize=9, color='#7ab8e8', ha='center', va='center',
         family=['DejaVu Sans'])
fig.text(fx(75), fy(659), "Risque neige", fontsize=7, va='center')
fig.text(fx(340), fy(652), "30 Perts.", fontsize=7, va='center')
for k, c in enumerate(pert_colors):
    x0 = 400 + 11 * k
    fig.add_artist(Rectangle((fx(x0), fy(656)), 10 / W, 7 / H, transform=fig.transFigure,
                             facecolor=c, edgecolor='none'))
    fig.text(fx(x0 + 5), fy(644), "%02d" % (k + 1), fontsize=5.3, fontweight='bold',
             ha='center', va='center')

# title box
fig.add_artist(Rectangle((fx(21), fy(699)), 419 / W, 32 / H, transform=fig.transFigure,
                         facecolor='none', edgecolor='black', lw=1.1))
fig.text(fx(30), fy(677), "Diagramme des ensembles GEFS sur 384h : 40.6N 22.9E",
         fontsize=8.4, fontweight='bold', va='center')
fig.text(fx(30), fy(692), "Températures 850hPa et 500hPa (°C) , précipitations (mm)",
         fontsize=7, va='center')
fig.text(fx(450), fy(673), "Ensemble GEFS du 28/08/2026 - 18Z", fontsize=7, va='center')
fig.text(fx(450), fy(692), "Copyright 2026 Meteociel.fr", fontsize=8.3, fontweight='bold',
         va='center')

fig.savefig("out.png", dpi=100)
